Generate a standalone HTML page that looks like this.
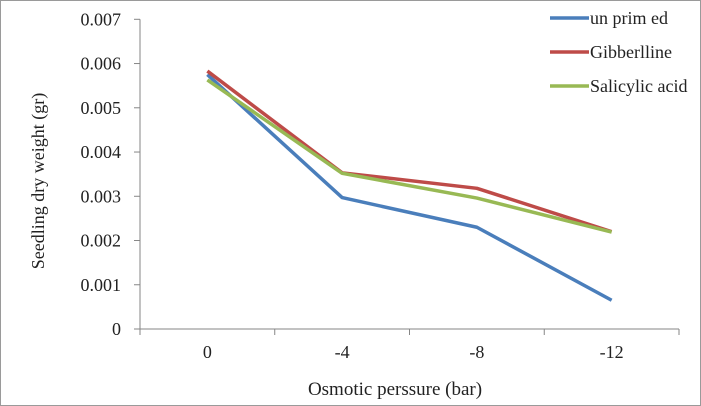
<!DOCTYPE html>
<html><head><meta charset="utf-8"><style>
html,body{margin:0;padding:0;background:#fff}
svg{display:block;font-family:"Liberation Serif",serif}
</style></head><body>
<svg width="701" height="406" id="c">
<rect x="0.5" y="0.5" width="700" height="405" fill="#fff" stroke="#9a9a9a"/>
</svg>
<script>
const categories=["0","-4","-8","-12"];
const yTicks=[0,0.001,0.002,0.003,0.004,0.005,0.006,0.007];
const seriesNames=["un prim ed","Gibberlline","Salicylic acid"];
const unprimed=[0.00575,0.00297,0.0023,0.00065];
const gibberlline=[0.00583,0.00353,0.00318,0.0022];
const salicylic=[0.00563,0.00352,0.00296,0.00219];
const colors=["#4a7ebb","#be4b48","#98b954"];
const svg=document.getElementById('c');const NS='http://www.w3.org/2000/svg';
const X0=140,X1=679,Y0=329,Y1=19.3,YMAX=0.007;
const cw=(X1-X0)/categories.length;
const xs=i=>X0+cw*(i+0.5);
const ys=v=>Y0-(v/YMAX)*(Y0-Y1);
function mk(t,a,p){const e=document.createElementNS(NS,t);for(const k in a)e.setAttribute(k,a[k]);(p||svg).appendChild(e);return e;}
let e;
e=mk('line',{x1:X0,y1:Y1,x2:X0,y2:Y0,stroke:'#868686'});


e=mk('line',{x1:X0,y1:Y0,x2:X1,y2:Y0,stroke:'#868686'});


yTicks.forEach(v=>{
 e=mk('line',{x1:X0-6,y1:ys(v),x2:X0,y2:ys(v),stroke:'#868686'});
 
 
 e=mk('text',{x:121,y:ys(v)+6,'text-anchor':'end','font-size':18,fill:'#222'});
 e.textContent=v===0?'0':v.toFixed(3);
 
 
});
for(let i=0;i<=categories.length;i++){
 e=mk('line',{x1:X0+cw*i,y1:Y0,x2:X0+cw*i,y2:Y0+6,stroke:'#868686'});
 
 
}
categories.forEach((c,i)=>{
 e=mk('text',{x:xs(i),y:358,'text-anchor':'middle','font-size':18,fill:'#222'});
 e.textContent=c;
 
 
});
e=mk('text',{x:395,y:395,'text-anchor':'middle','font-size':19,fill:'#222'});
e.textContent='Osmotic perssure (bar)';


e=mk('text',{x:0,y:0,'text-anchor':'middle','font-size':18,fill:'#222',transform:'translate(44,181) rotate(-90)'});
e.textContent='Seedling dry weight (gr)';


const all=[unprimed,gibberlline,salicylic];
all.forEach((s,k)=>{
 e=mk('polyline',{points:s.map((v,i)=>xs(i)+','+ys(v)).join(' '),fill:'none',stroke:colors[k],'stroke-width':3.5,'stroke-linejoin':'round'});
 
 
});
const ly=[18,52,86];
seriesNames.forEach((n,k)=>{
 e=mk('line',{x1:550,y1:ly[k],x2:589,y2:ly[k],stroke:colors[k],'stroke-width':3.5});
 
 
 e=mk('text',{x:590,y:ly[k]+6,'font-size':18,fill:'#222'});
 e.textContent=n;
 
 
});
</script>
</body></html>
